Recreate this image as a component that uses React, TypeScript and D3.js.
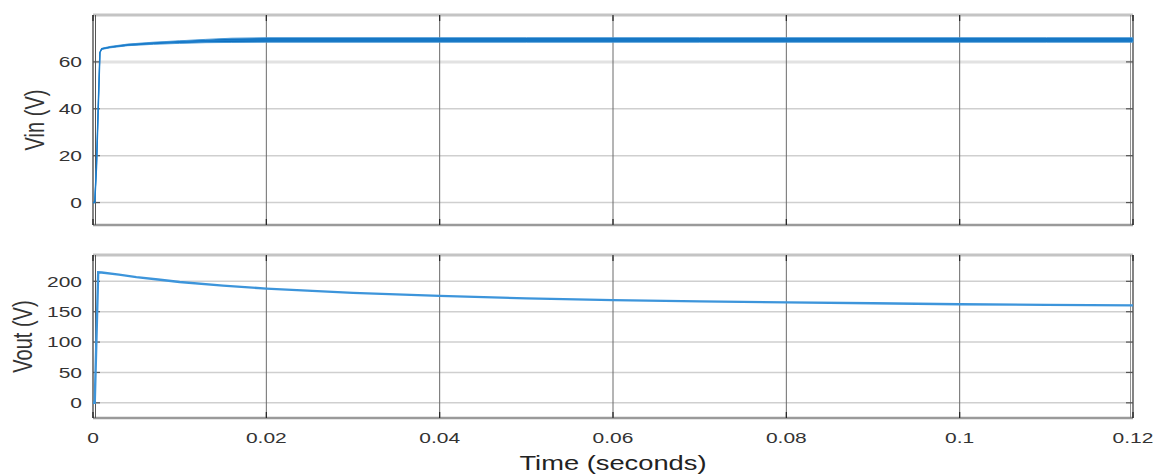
import React from "react";
import * as d3 from "d3";

const xTicks = [0, 0.02, 0.04, 0.06, 0.08, 0.1, 0.12];
const xTickLabels = ["0", "0.02", "0.04", "0.06", "0.08", "0.1", "0.12"];
const vinTicks = [0, 20, 40, 60];
const voutTicks = [0, 50, 100, 150, 200];

const vinTime = [0, 0.0002, 0.0004, 0.0006, 0.0008, 0.001, 0.002, 0.004, 0.007, 0.01, 0.013, 0.016, 0.02, 0.03, 0.04, 0.05, 0.06, 0.07, 0.08, 0.09, 0.1, 0.11, 0.12];
const vinUpper = [0, 0, 15, 40, 64, 65.8, 66.6, 67.6, 68.4, 69.0, 69.6, 70.1, 70.3, 70.3, 70.3, 70.3, 70.3, 70.3, 70.3, 70.3, 70.3, 70.3, 70.3];
const vinLower = [0, 0, 15, 40, 64, 65.3, 66.0, 66.9, 67.5, 67.9, 68.2, 68.3, 68.4, 68.4, 68.4, 68.4, 68.4, 68.4, 68.4, 68.4, 68.4, 68.4, 68.4];

const voutTime = [0, 0.0002, 0.0006, 0.001, 0.003, 0.005, 0.0075, 0.01, 0.015, 0.02, 0.03, 0.04, 0.05, 0.06, 0.07, 0.08, 0.09, 0.1, 0.11, 0.12];
const voutValues = [0, 0, 215, 214.5, 211, 207, 203, 199, 193, 188, 181, 176, 172, 169, 167, 165.3, 163.8, 162.3, 161.3, 160.5];

const W = 1158;
const H = 475;
const X0 = 93;
const X1 = 1133;
const SX = 1.4;

const x = d3.scaleLinear().domain([0, 0.12]).range([X0, X1]);
const yTop = d3.scaleLinear().domain([-10, 80]).range([226, 15]);
const yBot = d3.scaleLinear().domain([-25, 245]).range([418, 254]);

const font = "'Liberation Sans', Arial, Helvetica, sans-serif";

function Panel({ y, ticks, top, bottom, label, labelX }: { y: d3.ScaleLinear<number, number>; ticks: number[]; top: number; bottom: number; label: string; labelX: number }) {
  return (
    <g>
      <rect x={X0} y={top} width={X1 - X0} height={bottom - top} fill="#ffffff" />
      {ticks.map((t) => (
        <line key={"h" + t} x1={X0} x2={X1} y1={y(t)} y2={y(t)} stroke={t === 60 ? "#e2e2e2" : "#cfcfcf"} strokeWidth={t === 60 ? 3 : 1.5} />
      ))}
      {xTicks.slice(1, -1).map((t) => (
        <line key={"v" + t} x1={x(t)} x2={x(t)} y1={top} y2={bottom} stroke="#6a6a6a" strokeWidth={1} />
      ))}
      <line x1={X0} x2={X1} y1={top} y2={top} stroke="#c4c4c4" strokeWidth={3} />
      <line x1={X0} x2={X1} y1={bottom} y2={bottom} stroke="#9a9a9a" strokeWidth={2.5} />
      <line x1={X0} x2={X0} y1={top} y2={bottom} stroke="#333" strokeWidth={1.2} />
      <line x1={X0 + 2.5} x2={X0 + 2.5} y1={top} y2={bottom} stroke="#555" strokeWidth={1} />
      <line x1={X1} x2={X1} y1={top} y2={bottom} stroke="#333" strokeWidth={1.2} />
      <line x1={X1 - 2.5} x2={X1 - 2.5} y1={top} y2={bottom} stroke="#777" strokeWidth={0.8} />
      {xTicks.map((t) => (
        <g key={"xt" + t}>
          <line x1={x(t)} x2={x(t)} y1={top} y2={top + 6} stroke="#222" strokeWidth={1.2} />
          <line x1={x(t)} x2={x(t)} y1={bottom} y2={bottom - 6} stroke="#222" strokeWidth={1.2} />
        </g>
      ))}
      {ticks.map((t) => (
        <g key={"yt" + t}>
          <line x1={X0} x2={X0 + 7} y1={y(t)} y2={y(t)} stroke="#555" strokeWidth={1.2} />
          <line x1={X1} x2={X1 - 7} y1={y(t)} y2={y(t)} stroke="#555" strokeWidth={1.2} />
          <text transform={`translate(82,${y(t)}) scale(${SX},1)`} dy="0.36em" textAnchor="end" fontSize={15} fill="#333" fontFamily={font}>
            {t}
          </text>
        </g>
      ))}
      <text
        transform={`translate(${labelX},${(top + bottom) / 2}) scale(${SX},1) rotate(-90)`}
        textAnchor="middle"
        dy="0.35em"
        fontSize={20}
        fill="#333"
        fontFamily={font}
      >
        {label}
      </text>
    </g>
  );
}

export default function App() {
  const vinData = vinTime.map((t, i) => ({ t, hi: vinUpper[i], lo: vinLower[i] }));
  const voutData = voutTime.map((t, i) => ({ t, v: voutValues[i] }));

  const vinArea = d3
    .area<{ t: number; hi: number; lo: number }>()
    .x((d) => x(d.t))
    .y0((d) => yTop(d.lo))
    .y1((d) => yTop(d.hi));
  const vinLine = d3
    .line<{ t: number; hi: number; lo: number }>()
    .x((d) => x(d.t))
    .y((d) => yTop((d.hi + d.lo) / 2));
  const voutLine = d3
    .line<{ t: number; v: number }>()
    .x((d) => x(d.t))
    .y((d) => yBot(d.v));

  return (
    <svg width={W} height={H} style={{ position: "absolute", left: 0, top: 0, background: "#fff" }}>
      <rect width={W} height={H} fill="#fff" />
      <Panel y={yTop} ticks={vinTicks} top={15} bottom={225} label="Vin (V)" labelX={34} />
      <Panel y={yBot} ticks={voutTicks} top={255} bottom={418} label="Vout (V)" labelX={22} />
      <path d={vinArea(vinData) || ""} fill="#0a6cbb" stroke="#4a9ad8" strokeWidth={1} />
      <path d={vinLine(vinData) || ""} fill="none" stroke="#1a7ccc" strokeWidth={1.5} />
      <path d={voutLine(voutData) || ""} fill="none" stroke="#3d95db" strokeWidth={2.4} />
      {xTicks.map((t, i) => (
        <text key={"xl" + t} transform={`translate(${x(t)},438) scale(${SX},1)`} dy="0.36em" textAnchor="middle" fontSize={15} fill="#333" fontFamily={font}>
          {xTickLabels[i]}
        </text>
      ))}
      <text transform={`translate(613,463) scale(${SX},1)`} dy="0.36em" textAnchor="middle" fontSize={19.5} fill="#222" fontFamily={font}>
        Time (seconds)
      </text>
    </svg>
  );
}
